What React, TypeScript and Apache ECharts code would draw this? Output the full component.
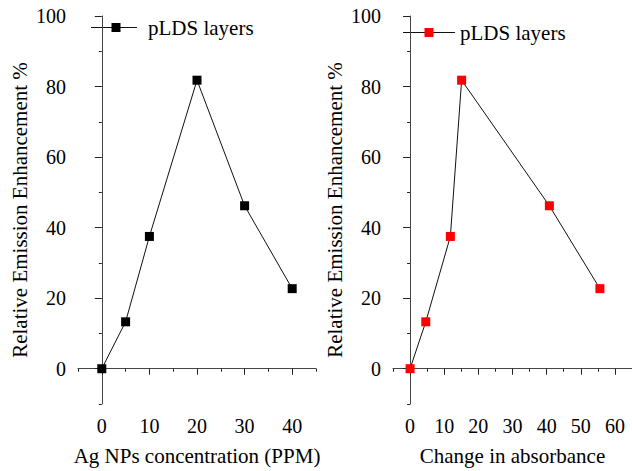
import React, { useEffect, useRef } from "react";
import * as echarts from "echarts";

const ppm = [0, 5, 10, 20, 30, 40];
const enhancementLeft = [0, 13.3, 37.5, 81.8, 46.2, 22.7];
const absorbanceChange = [0, 4.6, 11.8, 15.1, 40.8, 55.6];
const enhancementRight = [0, 13.3, 37.5, 81.8, 46.2, 22.7];

const yMajor = [0, 20, 40, 60, 80, 100];
const yMinor = [-10, 10, 30, 50, 70, 90];
const xLeftMajor = [0, 10, 20, 30, 40];
const xLeftMinor = [-5, 5, 15, 25, 35, 45];
const xRightMajor = [0, 10, 20, 30, 40, 50, 60];
const xRightMinor = [-5, 5, 15, 25, 35, 45, 55, 65];

const legendLabel = "pLDS layers";
const yName = "Relative Emission Enhancement %";
const xNameLeft = "Ag NPs concentration (PPM)";
const xNameRight = "Change in absorbance";

const FONT = "'Liberation Serif', 'Times New Roman', serif";

export default function App() {
  const ref = useRef<HTMLDivElement>(null);
  useEffect(() => {
    const chart = echarts.init(ref.current!, null, { renderer: "svg" });
    const axisLine = { show: true, lineStyle: { color: "#444", width: 1 } };
    const tickStyle = { color: "#222", width: 1 };
    const labelBase = { color: "#000", fontFamily: FONT, fontSize: 20 };
    const nameStyle = { color: "#000", fontFamily: FONT, fontSize: 21 };

    const mkX = (gridIndex: number, min: number, max: number, major: number[], minor: number[], name: string) => [
      {
        type: "value", gridIndex, min, max, interval: 5,
        name, nameLocation: "middle", nameGap: 41, nameTextStyle: nameStyle,
        axisLine, splitLine: { show: false },
        axisTick: { show: true, inside: false, length: 6, customValues: major, lineStyle: tickStyle },
        axisLabel: { ...labelBase, margin: 12, customValues: major },
      },
      {
        type: "value", gridIndex, min, max, interval: 5, position: "bottom",
        axisLine: { show: false }, splitLine: { show: false },
        axisTick: { show: true, inside: false, length: 3, customValues: minor, lineStyle: tickStyle },
        axisLabel: { show: false },
      },
    ];
    const mkY = (gridIndex: number) => [
      {
        type: "value", gridIndex, min: -10, max: 100, interval: 10,
        name: yName, nameLocation: "middle", nameGap: 48, nameTextStyle: nameStyle,
        axisLine, splitLine: { show: false },
        axisTick: { show: true, inside: false, length: 7, customValues: yMajor, lineStyle: tickStyle },
        axisLabel: { ...labelBase, margin: 12, customValues: yMajor },
      },
      {
        type: "value", gridIndex, min: -10, max: 100, interval: 10, position: "left",
        axisLine: { show: false }, splitLine: { show: false },
        axisTick: { show: true, inside: false, length: 3, customValues: yMinor, lineStyle: tickStyle },
        axisLabel: { show: false },
      },
    ];

    const legendItem = (x0: number, x1: number, xm: number, xt: number, y: number, color: string) => ({
      type: "group",
      children: [
        { type: "line", shape: { x1: x0, y1: y, x2: x1, y2: y }, style: { stroke: "#111", lineWidth: 1 } },
        { type: "rect", shape: { x: xm - 4.5, y: y - 4.5, width: 9, height: 9 }, style: { fill: color } },
        {
          type: "text", x: xt, y,
          style: { text: legendLabel, fill: "#000", font: `21px ${FONT}`, textVerticalAlign: "middle", verticalAlign: "middle" },
        },
      ],
    });

    const option: any = {
      animation: false,
      backgroundColor: "#fff",
      textStyle: { fontFamily: FONT },
      grid: [
        { left: 78, width: 238, top: 16, height: 391 },
        { left: 393, width: 239, top: 16, height: 391 },
      ],
      xAxis: [
        ...mkX(0, -5, 45, xLeftMajor, xLeftMinor, xNameLeft),
        ...mkX(1, -5, 65, xRightMajor, xRightMinor, xNameRight),
      ],
      yAxis: [...mkY(0), ...mkY(1)],
      graphic: [
        legendItem(91, 137, 116, 148, 27.5, "#000"),
        legendItem(403, 455, 429, 460, 32.5, "#ff0000"),
      ],
      series: [
        {
          name: "left", type: "line", xAxisIndex: 0, yAxisIndex: 0,
          data: ppm.map((x, i) => [x, enhancementLeft[i]]),
          symbol: "rect", symbolSize: 9,
          lineStyle: { color: "#111", width: 1 },
          itemStyle: { color: "#000" },
        },
        {
          name: "right", type: "line", xAxisIndex: 2, yAxisIndex: 2,
          data: absorbanceChange.map((x, i) => [x, enhancementRight[i]]),
          symbol: "rect", symbolSize: 9,
          lineStyle: { color: "#111", width: 1 },
          itemStyle: { color: "#ff0000" },
        },
      ],
    };
    chart.setOption(option);
    return () => chart.dispose();
  }, []);
  return (
    <div
      ref={ref}
      style={{ position: "fixed", left: 0, top: 0, width: 632, height: 471, background: "#fff" }}
    />
  );
}
